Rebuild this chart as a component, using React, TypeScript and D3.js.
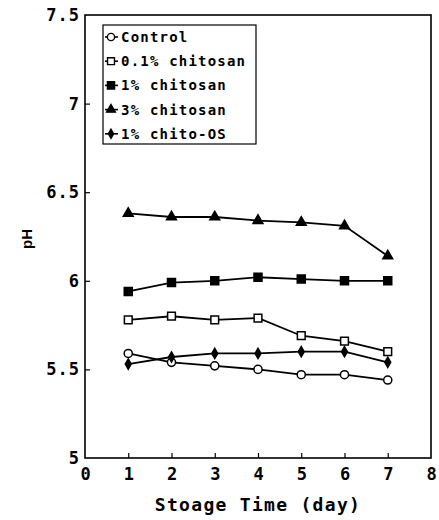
import React, { useEffect, useRef } from "react";
import * as d3 from "d3";

// pH over storage time
const days = [1, 2, 3, 4, 5, 6, 7];
const control = [5.59, 5.54, 5.52, 5.5, 5.47, 5.47, 5.44];
const chitosan01 = [5.78, 5.8, 5.78, 5.79, 5.69, 5.66, 5.6];
const chitosan1 = [5.94, 5.99, 6.0, 6.02, 6.01, 6.0, 6.0];
const chitosan3 = [6.38, 6.36, 6.36, 6.34, 6.33, 6.31, 6.14];
const chitoOS = [5.53, 5.57, 5.59, 5.59, 5.6, 5.6, 5.54];
const seriesNames = ["Control", "0.1% chitosan", "1% chitosan", "3% chitosan", "1% chito-OS"];
const xTicks = [0, 1, 2, 3, 4, 5, 6, 7, 8];
const yTicks = [5, 5.5, 6, 6.5, 7, 7.5];

const width = 439,
    height = 520;
const left = 85,
    right = 431,
    top = 15,
    bottom = 458;

const App = () => {
    const ref = useRef<SVGSVGElement>(null);

    useEffect(() => {
        const svg = d3.select(ref.current);
        svg.selectAll("*").remove();

        const xScale = d3.scaleLinear().domain([0, 8]).range([left, right]);
        const yScale = d3.scaleLinear().domain([5, 7.5]).range([bottom, top]);

        const series = [
            { name: seriesNames[0], values: control, symbol: d3.symbolCircle, size: 52, fill: "white" },
            { name: seriesNames[1], values: chitosan01, symbol: d3.symbolSquare, size: 60, fill: "white" },
            { name: seriesNames[2], values: chitosan1, symbol: d3.symbolSquare, size: 64, fill: "black" },
            { name: seriesNames[3], values: chitosan3, symbol: d3.symbolTriangle, size: 42, fill: "black" },
            { name: seriesNames[4], values: chitoOS, symbol: d3.symbolDiamond, size: 30, fill: "black" },
        ];

        // frame
        svg.append("rect")
            .attr("x", left)
            .attr("y", top)
            .attr("width", right - left)
            .attr("height", bottom - top)
            .attr("fill", "none")
            .attr("stroke", "black")
            .attr("stroke-width", 1.6);

        const xAxis = d3.axisBottom(xScale)
            .tickValues(xTicks)
            .tickFormat(d3.format("d"))
            .tickSizeInner(-5)
            .tickSizeOuter(0)
            .tickPadding(10);
        const yAxis = d3.axisLeft(yScale)
            .tickValues(yTicks)
            .tickFormat((d) => String(d))
            .tickSizeInner(-5)
            .tickSizeOuter(0)
            .tickPadding(5);

        const gx = svg.append("g")
            .attr("transform", "translate(0," + bottom + ")")
            .call(xAxis);
        const gy = svg.append("g")
            .attr("transform", "translate(" + left + ",0)")
            .call(yAxis);
        [gx, gy].forEach((g) => {
            g.select(".domain").remove();
            g.selectAll("line").attr("stroke", "black").attr("stroke-width", 1.2);
            g.selectAll("text")
                .attr("fill", "black")
                .style("font-family", "'DejaVu Sans Mono', monospace")
                .style("font-weight", "bold")
                .style("font-size", "17px");
        });
        gy.selectAll("text").style("letter-spacing", "1px");
        gx.selectAll("line").filter((d) => d === 0 || d === 8).remove();
        gy.selectAll("line").filter((d) => d === 5 || d === 7.5).remove();

        // lines and markers
        const line = d3.line<number>()
            .x((d, i) => xScale(days[i]))
            .y((d) => yScale(d));

        series.forEach((s) => {
            svg.append("path")
                .attr("d", line(s.values))
                .attr("fill", "none")
                .attr("stroke", "black")
                .attr("stroke-width", 1.8);
            svg.selectAll(null)
                .data(s.values)
                .enter()
                .append("path")
                .attr("d", d3.symbol().type(s.symbol).size(s.size))
                .attr("transform", (d, i) => "translate(" + xScale(days[i]) + "," + yScale(d) + ")")
                .attr("fill", s.fill)
                .attr("stroke", "black")
                .attr("stroke-width", 1.5);
        });

        // legend
        const legend = svg.append("g");
        legend.append("rect")
            .attr("x", 103)
            .attr("y", 25)
            .attr("width", 153)
            .attr("height", 119)
            .attr("fill", "white")
            .attr("stroke", "black")
            .attr("stroke-width", 1.2);
        series.forEach((s, i) => {
            const cy = 37 + i * 24.2;
            legend.append("line")
                .attr("x1", 105)
                .attr("x2", 118)
                .attr("y1", cy)
                .attr("y2", cy)
                .attr("stroke", "black")
                .attr("stroke-width", 1.6);
            legend.append("path")
                .attr("d", d3.symbol().type(s.symbol).size(s.size * 0.8))
                .attr("transform", "translate(111," + cy + ")")
                .attr("fill", s.fill)
                .attr("stroke", "black")
                .attr("stroke-width", 1.4);
            legend.append("text")
                .attr("x", 121)
                .attr("y", cy + 5)
                .attr("fill", "black")
                .style("font-family", "'DejaVu Sans Mono', monospace")
                .style("font-weight", "bold")
                .style("font-size", "14px")
                .style("letter-spacing", "1.2px")
                .text(s.name);
        });

        // axis titles
        svg.append("text")
            .attr("x", (left + right) / 2)
            .attr("y", 511)
            .attr("text-anchor", "middle")
            .style("font-family", "'DejaVu Sans Mono', monospace")
            .style("font-weight", "bold")
            .style("font-size", "18px")
            .style("letter-spacing", "1.3px")
            .text("Stoage Time (day)");
        svg.append("text")
            .attr("transform", "translate(32,239) rotate(-90)")
            .attr("text-anchor", "middle")
            .style("font-family", "'Liberation Sans', Arial, sans-serif")
            .style("font-weight", "bold")
            .style("font-size", "15px")
            .text("pH");
    }, []);

    return (
        <svg
            ref={ref}
            width={width}
            height={height}
            style={{ position: "absolute", left: 0, top: 0, background: "white" }}
        />
    );
};

export default App;
